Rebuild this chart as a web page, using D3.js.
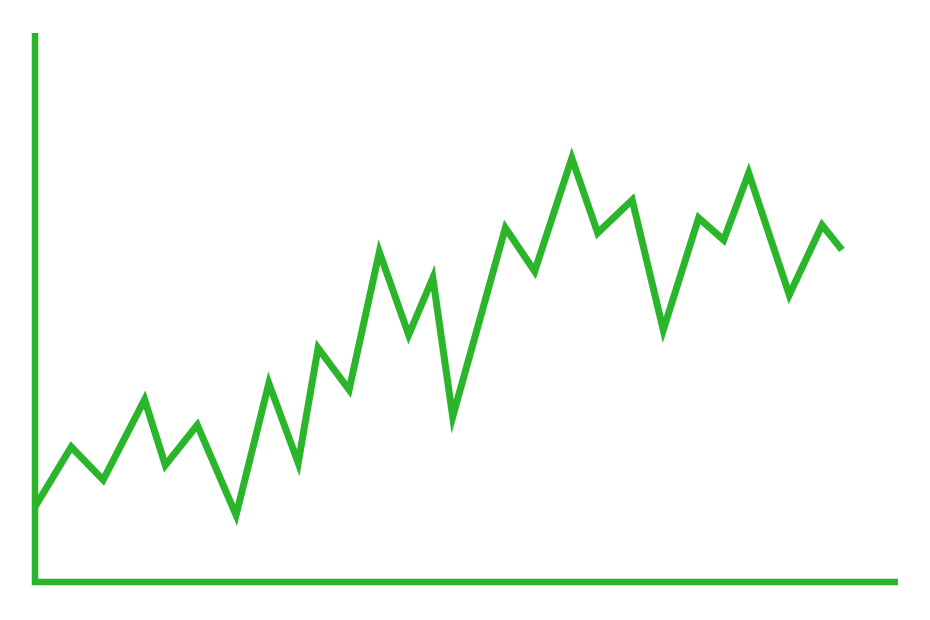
<!DOCTYPE html>
<html>
<head>
<meta charset="utf-8">
<script src="https://cdn.jsdelivr.net/npm/d3@7"></script>
<style>
html,body{margin:0;padding:0;background:#fff;}
svg{display:block;}
</style>
</head>
<body>
<svg id="chart" width="930" height="620"></svg>
<script>
const xValues = [0, 4.2, 7.9, 12.7, 15.1, 18.8, 23.3, 27.1, 30.5, 32.8, 36.4, 39.9, 43.3, 46.1, 48.4, 54.5, 57.9, 62.2, 65.2, 69.2, 72.8, 76.9, 79.8, 82.7, 87.4, 91.2, 93.5];
const yValues = [13.7, 24.6, 18.6, 33.2, 21.3, 28.6, 12.2, 36.2, 21.7, 42.6, 35.0, 60.1, 45.0, 55.4, 30.1, 64.5, 56.6, 77.2, 63.6, 69.6, 45.9, 66.3, 62.3, 74.5, 52.3, 65.0, 60.5];
const xDomain = [0, 100];
const yDomain = [0, 100];

const color = "#2bb52b";
const svg = d3.select("#chart");
const margin = {left: 35, right: 32, top: 33, bottom: 38};
const W = 930, H = 620;

const x = d3.scaleLinear().domain(xDomain).range([margin.left, W - margin.right]);
const y = d3.scaleLinear().domain(yDomain).range([H - margin.bottom, margin.top]);

const data = xValues.map((v, i) => ({x: v, y: yValues[i]}));

const [x0, x1] = x.range();
const [yb, yt] = y.range();
svg.append("path")
  .attr("d", `M${x0},${yt} V${yb} H${x1}`)
  .attr("fill", "none")
  .attr("stroke", color)
  .attr("stroke-width", 6.5)
  .attr("stroke-linejoin", "miter");

const line = d3.line().x(d => x(d.x)).y(d => y(d.y));
svg.append("path")
  .datum(data)
  .attr("d", line)
  .attr("fill", "none")
  .attr("stroke", color)
  .attr("stroke-width", 7)
  .attr("stroke-linejoin", "miter")
  .attr("stroke-miterlimit", 10);
</script>
</body>
</html>
